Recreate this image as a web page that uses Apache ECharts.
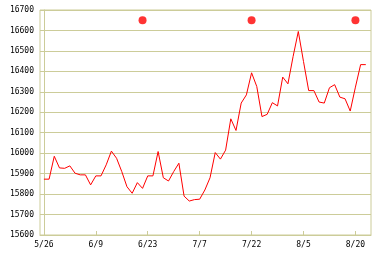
<!DOCTYPE html>
<html>
<head>
<meta charset="utf-8">
<script src="https://cdn.jsdelivr.net/npm/echarts@6/dist/echarts.min.js"></script>
<style>html,body{margin:0;padding:0;background:#fff}#c{width:382px;height:258px}</style>
</head>
<body>
<div id="c"></div>
<script>
const tickIndex = [0, 10, 20, 30, 40, 50, 60];
const tickLabels = ['5/26', '6/9', '6/23', '7/7', '7/22', '8/5', '8/20'];
const values = [
  15873, 15873, 15985, 15928, 15926, 15938, 15902, 15894, 15894, 15845,
  15889, 15889, 15943, 16010, 15975, 15910, 15836, 15804, 15856, 15828,
  15889, 15889, 16008, 15880, 15864, 15910, 15951, 15790, 15766, 15773,
  15775, 15820, 15880, 16003, 15971, 16015, 16168, 16111, 16245, 16285,
  16393, 16326, 16179, 16190, 16247, 16231, 16372, 16339, 16473, 16595,
  16448, 16306, 16306, 16250, 16245, 16320, 16335, 16274, 16266, 16206,
  16323, 16433, 16433
];
const markerIndex = [19, 40, 60];
const markerValue = [16650, 16650, 16650];

const lineData = values.map((v, i) => [i, v]);
const markerData = markerIndex.map((x, i) => [x, markerValue[i]]);
const gridColor = '#cccc99';
const font = { color: '#000', fontFamily: 'DejaVu Sans Mono', fontSize: 8 };

const chart = echarts.init(document.getElementById('c'), null, { renderer: 'canvas' });
chart.setOption({
  animation: false,
  backgroundColor: '#fff',
  grid: { left: 40, right: 11, top: 10, bottom: 23, containLabel: false, outerBoundsMode: 'none',
          show: true, borderColor: gridColor, borderWidth: 1 },
  xAxis: {
    type: 'value', min: -0.75, max: 63,
    axisLine: { show: true, lineStyle: { color: gridColor } },
    axisTick: { show: true, inside: true, length: 4, customValues: tickIndex, lineStyle: { color: gridColor } },
    axisLabel: Object.assign({ customValues: tickIndex, margin: 6,
      formatter: v => tickLabels[tickIndex.indexOf(v)] }, font),
    splitLine: { show: false }
  },
  yAxis: {
    type: 'value', min: 15600, max: 16700, interval: 100,
    axisLine: { show: true, lineStyle: { color: gridColor } },
    axisTick: { show: false },
    axisLabel: Object.assign({ margin: 6, formatter: v => String(v) }, font),
    splitLine: { show: true, lineStyle: { color: gridColor, width: 1 } }
  },
  series: [
    { type: 'line', data: lineData, symbol: 'none', lineStyle: { color: '#ff0000', width: 1 } },
    { type: 'scatter', data: markerData, symbol: 'circle', symbolSize: 8, itemStyle: { color: '#ff0000' } }
  ]
});
</script>
</body>
</html>
